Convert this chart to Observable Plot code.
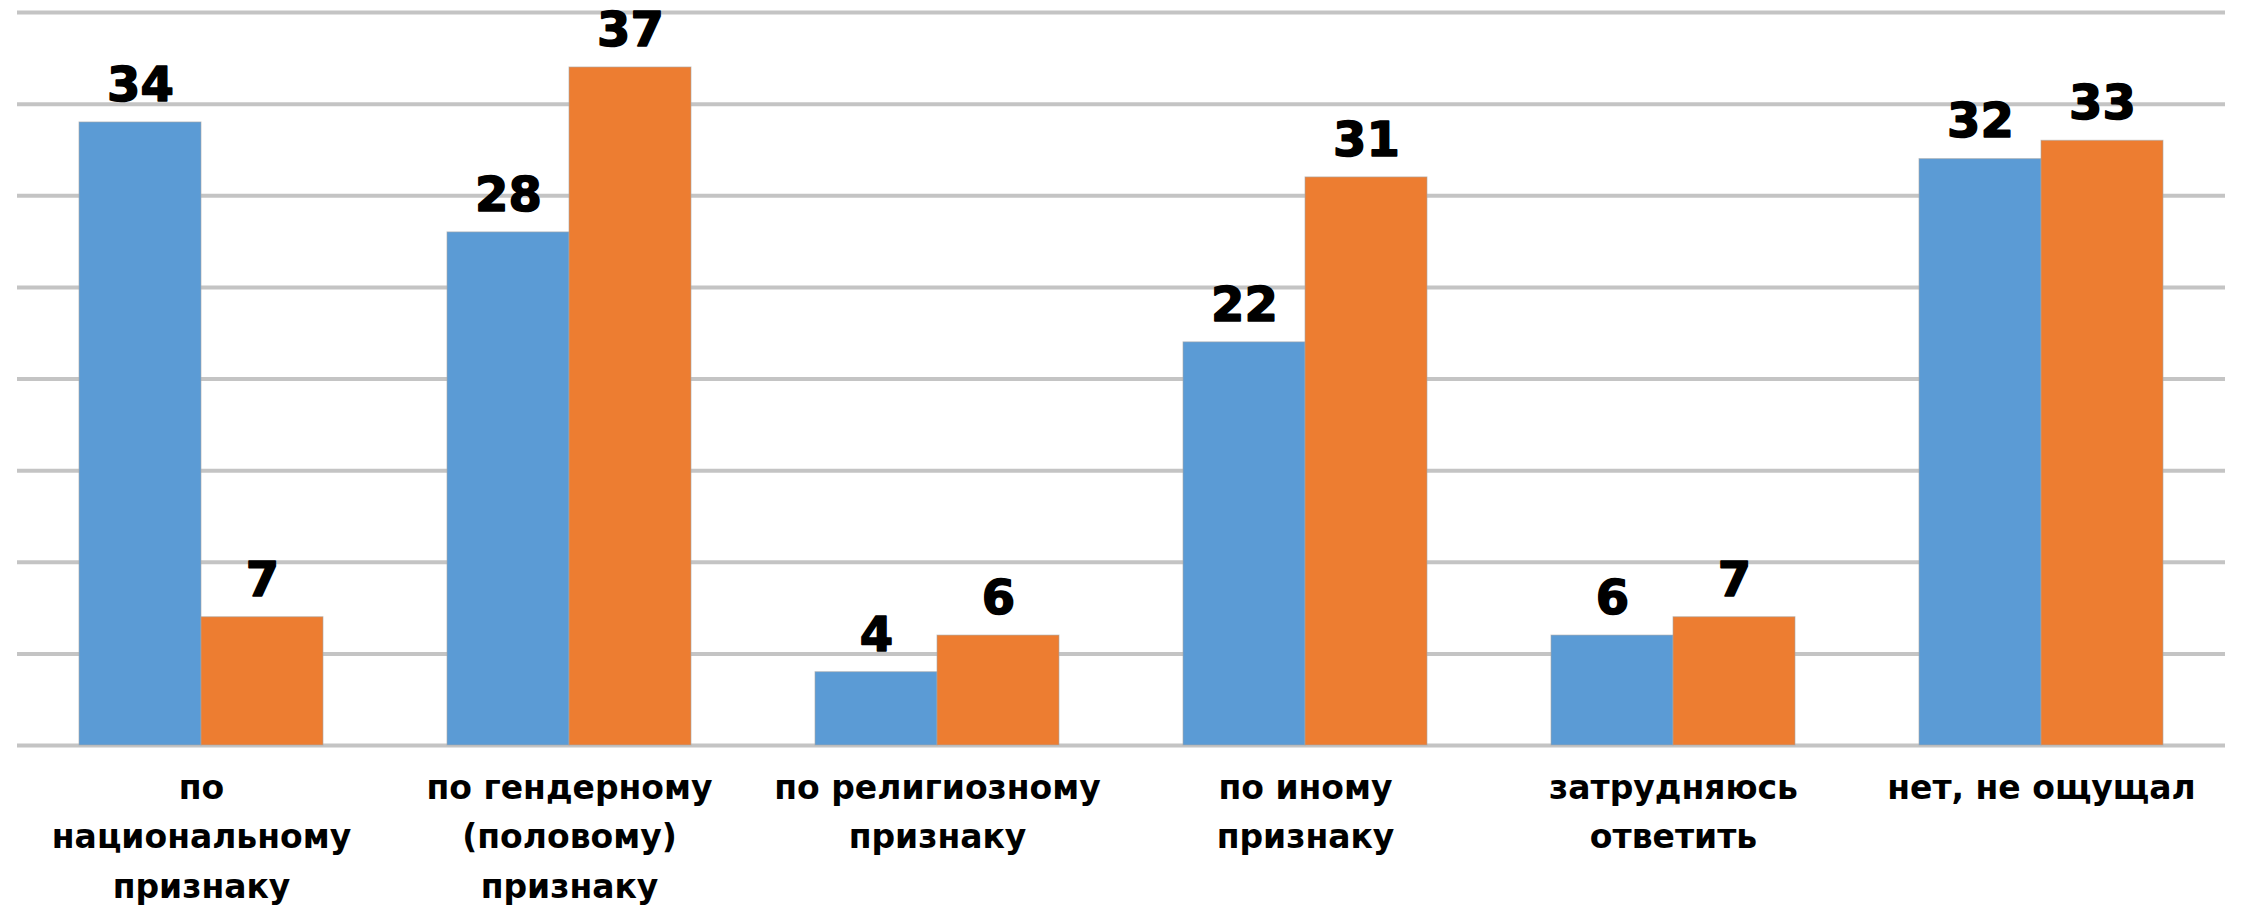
<!DOCTYPE html>
<html>
<head>
<meta charset="utf-8">
<script src="https://cdn.jsdelivr.net/npm/d3@7"></script>
<script src="https://cdn.jsdelivr.net/npm/@observablehq/plot@0.6"></script>
<style>
  html, body { margin: 0; padding: 0; background: #fff; }
  #chart svg { display: block; }
</style>
</head>
<body>
<div id="chart"></div>
<script>
const categories = [
  "по\nнациональному\nпризнаку",
  "по гендерному\n(половому)\nпризнаку",
  "по религиозному\nпризнаку",
  "по иному\nпризнаку",
  "затрудняюсь\nответить",
  "нет, не ощущал"
];
const seriesNames = ["A", "B"];
const seriesA = [34, 28, 4, 22, 6, 32];
const seriesB = [7, 37, 6, 31, 7, 33];
const yTicks = [0, 5, 10, 15, 20, 25, 30, 35, 40];
const colors = ["#5B9BD5", "#ED7D31"];

const data = [];
categories.forEach((c, i) => {
  data.push({cat: c, series: seriesNames[0], value: seriesA[i]});
  data.push({cat: c, series: seriesNames[1], value: seriesB[i]});
});

const chart = Plot.plot({
  width: 2241,
  height: 912,
  marginLeft: 14,
  marginRight: 14,
  marginTop: 12,
  marginBottom: 167,
  style: {fontFamily: "'DejaVu Sans', sans-serif", background: "#fff"},
  fx: {domain: categories, padding: 0, axis: null},
  x: {domain: seriesNames, paddingInner: 0, paddingOuter: 0.5, axis: null},
  y: {domain: [0, 40], axis: null},
  color: {domain: seriesNames, range: colors},
  marks: [
    Plot.ruleY(yTicks, {stroke: "#c4c4c4", strokeWidth: 4}),
    Plot.barY(data, {fx: "cat", x: "series", y: "value", fill: "series", stroke: "#a8a8a8", strokeWidth: 1, strokeOpacity: 0.6}),
    Plot.text(data, {fx: "cat", x: "series", y: "value", text: d => String(d.value), dy: -37, fontSize: 48, fontWeight: "bold", fill: "#000", stroke: "#000", strokeWidth: 1.5}),
    Plot.axisFx({anchor: "bottom", tickSize: 0, tickPadding: 18, fontSize: 33, fontWeight: "bold", lineHeight: 1.5, fill: "#000", stroke: "#000", strokeWidth: 1.2, label: null})
  ]
});
document.getElementById("chart").appendChild(chart);
</script>
</body>
</html>
